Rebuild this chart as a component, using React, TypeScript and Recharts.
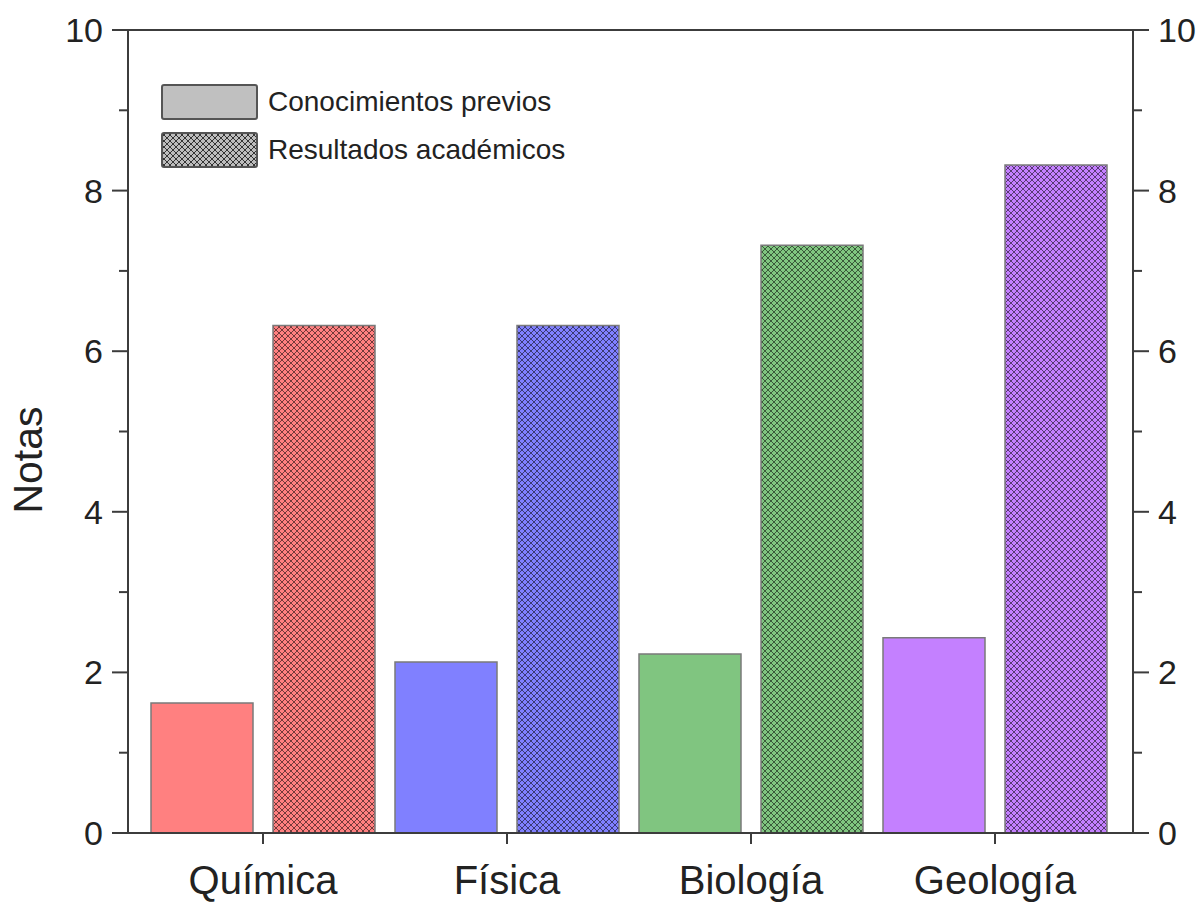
import React from "react";
import { Bar, ComposedChart, Cell, Line, ReferenceLine, XAxis, YAxis } from "recharts";

const categories = ["Química", "Física", "Biología", "Geología"];
const previos = [1.62, 2.13, 2.23, 2.43];
const resultados = [6.32, 6.32, 7.32, 8.32];
const yTicks = [0, 1, 2, 3, 4, 5, 6, 7, 8, 9, 10];
const yMax = 10;
const legendLabels = ["Conocimientos previos", "Resultados académicos"];

const colors = ["#ff8080", "#8080ff", "#80c580", "#c480ff"];
const ink = "#222";
const axisColor = "#3c3c3c";
const font = "'Liberation Sans', Arial, sans-serif";

const data = categories.map((name, i) => ({
  name,
  previos: previos[i],
  resultados: resultados[i],
}));

function Hatch({ id, base, line, opacity }: { id: string; base: string; line: string; opacity: number }) {
  return (
    <pattern id={id} width={6} height={6} patternUnits="userSpaceOnUse">
      <rect width={6} height={6} fill={base} />
      <path
        d="M0,0 L6,6 M-1,5 L1,7 M5,-1 L7,1 M0,6 L6,0 M-1,1 L1,-1 M5,7 L7,5"
        stroke={line}
        strokeOpacity={opacity}
        strokeWidth={1}
      />
    </pattern>
  );
}

const LeftTick = (props: any) => {
  const { x, y, payload } = props;
  const major = payload.value % 2 === 0;
  return (
    <g>
      <line x1={x} x2={x - (major ? 16 : 9)} y1={y} y2={y} stroke={axisColor} strokeWidth={2} />
      {major && (
        <text x={x - 25} y={y} textAnchor="end" dominantBaseline="central" fontSize={34} fill={ink} fontFamily={font}>
          {payload.value}
        </text>
      )}
    </g>
  );
};

const RightTick = (props: any) => {
  const { x, y, payload } = props;
  const major = payload.value % 2 === 0;
  return (
    <g>
      <line x1={x} x2={x + (major ? 16 : 9)} y1={y} y2={y} stroke={axisColor} strokeWidth={2} />
      {major && (
        <text x={x + 25} y={y} textAnchor="start" dominantBaseline="central" fontSize={34} fill={ink} fontFamily={font}>
          {payload.value}
        </text>
      )}
    </g>
  );
};

const CategoryTick = (props: any) => {
  const { x, y, payload } = props;
  return (
    <g>
      <line x1={x} x2={x} y1={y} y2={y + 11} stroke={axisColor} strokeWidth={2} />
      <text x={x} y={y + 61} textAnchor="middle" fontSize={40} fill={ink} fontFamily={font}>
        {payload.value}
      </text>
    </g>
  );
};

function LegendBox({ hatched }: { hatched: boolean }) {
  return (
    <svg width={97} height={36} style={{ display: "block" }}>
      <defs>
        <Hatch id="legendHatch" base="#bdbdbd" line="#111" opacity={0.8} />
      </defs>
      <rect
        x={1}
        y={1}
        width={95}
        height={34}
        rx={2}
        fill={hatched ? "url(#legendHatch)" : "#c0c0c0"}
        stroke="#555"
        strokeWidth={2}
      />
    </svg>
  );
}

export default function App() {
  return (
    <div style={{ position: "relative", width: 1199, height: 903, background: "#fff" }}>
      <style>{`body{margin:0}`}</style>
      <ComposedChart
        width={1199}
        height={903}
        data={data}
        margin={{ top: 30, right: 0, bottom: 0, left: 0 }}
        barCategoryGap={10}
        barGap={20}
      >
        <defs>
          {colors.map((c, i) => (
            <Hatch key={i} id={`hatch${i}`} base={c} line="#000" opacity={0.55} />
          ))}
        </defs>
        <XAxis
          dataKey="name"
          height={70}
          padding={{ left: 13, right: 16 }}
          axisLine={{ stroke: axisColor, strokeWidth: 2 }}
          tickLine={false}
          tickSize={0}
          tickMargin={0}
          interval={0}
          tick={<CategoryTick />}
        />
        <YAxis
          width={128}
          domain={[0, yMax]}
          ticks={yTicks}
          interval={0}
          axisLine={{ stroke: axisColor, strokeWidth: 2 }}
          tickLine={false}
          tickSize={0}
          tickMargin={0}
          tick={<LeftTick />}
          label={{
            content: () => (
              <text
                transform="translate(42,460) rotate(-90)"
                textAnchor="middle"
                fontSize={41}
                fill={ink}
                fontFamily={font}
              >
                Notas
              </text>
            ),
          }}
        />
        <YAxis
          yAxisId="right"
          orientation="right"
          width={66}
          domain={[0, yMax]}
          ticks={yTicks}
          interval={0}
          axisLine={{ stroke: axisColor, strokeWidth: 2 }}
          tickLine={false}
          tickSize={0}
          tickMargin={0}
          tick={<RightTick />}
        />
        <ReferenceLine y={yMax} stroke={axisColor} strokeWidth={2} />
        <Bar dataKey="previos" isAnimationActive={false} stroke="#7a7a7a" strokeWidth={1.5}>
          {data.map((_, i) => (
            <Cell key={i} fill={colors[i]} />
          ))}
        </Bar>
        <Bar dataKey="resultados" isAnimationActive={false} stroke="#7a7a7a" strokeWidth={1.5}>
          {data.map((_, i) => (
            <Cell key={i} fill={`url(#hatch${i})`} />
          ))}
        </Bar>
        <Line
          yAxisId="right"
          dataKey="resultados"
          stroke="none"
          dot={false}
          activeDot={false}
          legendType="none"
          isAnimationActive={false}
        />
      </ComposedChart>
      <div style={{ position: "absolute", left: 161, top: 84, fontFamily: font, color: ink }}>
        {legendLabels.map((label, i) => (
          <div key={label} style={{ display: "flex", alignItems: "center", height: 36, marginBottom: 12 }}>
            <LegendBox hatched={i === 1} />
            <span style={{ fontSize: 28, marginLeft: 10, lineHeight: "36px" }}>{label}</span>
          </div>
        ))}
      </div>
    </div>
  );
}
